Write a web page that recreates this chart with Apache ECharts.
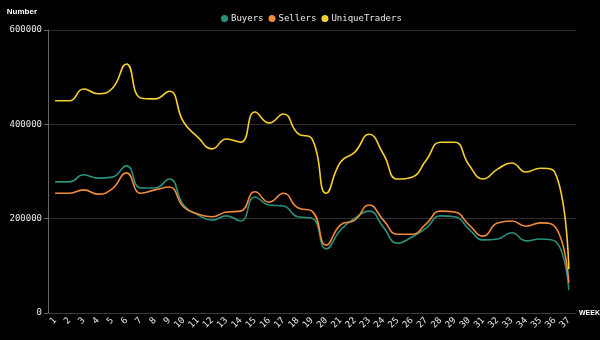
<!DOCTYPE html>
<html>
<head>
<meta charset="utf-8">
<script src="https://cdn.jsdelivr.net/npm/echarts@6/dist/echarts.min.js"></script>
<style>
  html, body { margin: 0; padding: 0; background: #000; }
  #main { width: 600px; height: 340px; }
</style>
</head>
<body>
<div id="main"></div>
<script>
var weeks = [];
for (var w = 1; w <= 37; w++) weeks.push(String(w));

var buyers = [278000, 278000, 293000, 286000, 288000, 312000, 265000, 265000, 284000, 229000,
  208000, 197000, 206000, 195000, 246000, 229000, 227000, 204000, 201000, 136000,
  176000, 201000, 216000, 182000, 148000, 161000, 180000, 206000, 204000, 178000,
  155000, 157000, 170000, 153000, 157000, 153000, 49000];

var sellers = [254000, 254000, 261000, 252000, 263000, 297000, 254000, 261000, 267000, 225000,
  210000, 204000, 214000, 216000, 257000, 235000, 254000, 223000, 216000, 144000,
  187000, 197000, 229000, 197000, 167000, 167000, 189000, 216000, 214000, 187000,
  163000, 191000, 195000, 184000, 191000, 184000, 64000];

var uniqueTraders = [450000, 450000, 475000, 465000, 476000, 528000, 456000, 454000, 470000, 405000,
  373000, 348000, 369000, 362000, 426000, 403000, 422000, 381000, 369000, 254000,
  320000, 341000, 379000, 337000, 284000, 288000, 324000, 362000, 362000, 314000,
  284000, 305000, 318000, 299000, 307000, 299000, 93000];

var colors = ['#2b8f7e', '#f08a3c', '#f6cf2f'];
var mono = 'DejaVu Sans Mono';

function line(name, data) {
  return {
    name: name,
    type: 'line',
    smooth: true,
    symbol: 'none',
    lineStyle: { width: 1.6 },
    data: data
  };
}

var chart = echarts.init(document.getElementById('main'));
chart.setOption({
  backgroundColor: '#000',
  color: colors,
  animation: false,
  legend: {
    top: 9,
    left: 216,
    icon: 'circle',
    itemWidth: 7,
    itemHeight: 7,
    itemGap: 5,
    textStyle: { color: '#e8e8e8', fontFamily: mono, fontSize: 9, padding: [0, 0, 0, -2] },
    data: ['Buyers', 'Sellers', 'UniqueTraders']
  },
  grid: { left: 48, right: 24, top: 30, bottom: 27, outerBoundsMode: 'none' },
  xAxis: {
    type: 'category',
    data: weeks,
    boundaryGap: true,
    name: 'WEEK',
    nameLocation: 'end',
    nameGap: 3,
    nameTextStyle: { color: '#fff', fontFamily: 'Liberation Sans', fontWeight: 'bold', fontSize: 7, padding: [20, 0, 0, 0] },
    axisLine: { lineStyle: { color: '#3a3a3a' } },
    axisTick: { show: false },
    axisLabel: { color: '#e8e8e8', rotate: 45, interval: 0, fontFamily: mono, fontSize: 9, margin: 6 }
  },
  yAxis: {
    type: 'value',
    min: 0,
    max: 600000,
    interval: 200000,
    name: 'Number',
    nameGap: 14,
    nameTextStyle: { color: '#fff', fontFamily: 'Liberation Sans', fontWeight: 'bold', fontSize: 8, align: 'right', padding: [0, 11, 0, 0] },
    axisLine: { show: true, lineStyle: { color: '#666' } },
    axisTick: { show: true, length: 4, lineStyle: { color: '#666' } },
    splitLine: { lineStyle: { color: '#2e2e2e' } },
    axisLabel: { color: '#e8e8e8', fontFamily: mono, fontSize: 9, margin: 6, formatter: function (v) { return String(v); } }
  },
  series: [
    line('Buyers', buyers),
    line('Sellers', sellers),
    line('UniqueTraders', uniqueTraders)
  ]
});
</script>
</body>
</html>
